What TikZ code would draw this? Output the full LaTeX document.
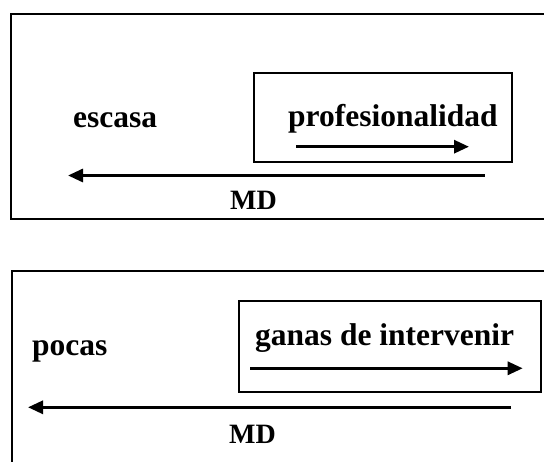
\documentclass[tikz,border=0pt]{standalone}
\usepackage{fontspec}
\setmainfont{Liberation Serif}
\usetikzlibrary{arrows.meta}
\tikzset{
  frame/.style={draw=black, line width=2.2pt},
  innerbox/.style={draw=black, line width=2pt},
  lbl/.style={anchor=base west, inner sep=0pt, font=\fontsize{31.5}{36}\selectfont\bfseries},
  mdlbl/.style={anchor=base west, inner sep=0pt, font=\fontsize{28}{32}\selectfont\bfseries},
  arr/.style={line width=3pt, -{Triangle[length=15pt,width=13pt]}}
}
\begin{document}
\begin{tikzpicture}[x=1pt,y=-1pt]
\useasboundingbox (0,0) rectangle (544,462);
% top panel
\draw[frame] (560,14) -- (11,14) -- (11,219) -- (560,219);
\draw[innerbox] (254,72.7) rectangle (512,161.7);
\node[lbl] (escasa) at (73,128) {escasa};
\node[lbl] (prof) at (288,127) {profesionalidad};
\node[mdlbl] (md1) at (230,210) {MD};
\coordinate (s1a) at (296,146.7);
\coordinate (s1b) at (469,146.7);
\coordinate (b1a) at (484.7,175.5);
\coordinate (b1b) at (68,175.5);
\draw[arr] (s1a) -- (s1b);
\draw[arr] (b1a) -- (b1b);
% bottom panel
\draw[frame] (560,271) -- (12,271) -- (12,480);
\draw[innerbox] (238.7,301) rectangle (541.3,392);
\node[lbl] (pocas) at (32,356) {pocas};
\node[lbl] (ganas) at (255,346) {ganas de intervenir};
\node[mdlbl] (md2) at (229,443) {MD};
\coordinate (s2a) at (250,368.3);
\coordinate (s2b) at (522.7,368.3);
\coordinate (b2a) at (511,407.3);
\coordinate (b2b) at (28,407.3);
\draw[arr] (s2a) -- (s2b);
\draw[arr] (b2a) -- (b2b);
\end{tikzpicture}
\end{document}
